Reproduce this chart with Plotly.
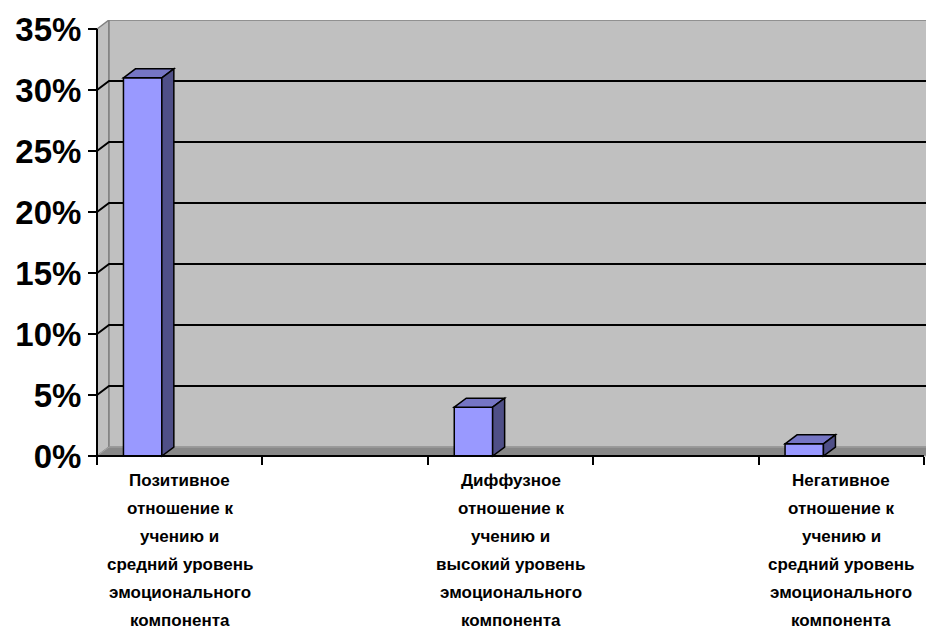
import plotly.graph_objects as go

# ---- data ----
categories = [
    "Позитивное<br>отношение к<br>учению и<br>средний уровень<br>эмоционального<br>компонента",
    "Диффузное<br>отношение к<br>учению и<br>высокий уровень<br>эмоционального<br>компонента",
    "Негативное<br>отношение к<br>учению и<br>средний уровень<br>эмоционального<br>компонента",
]
values = [0.31, 0.04, 0.01]
y_ticks = [0, 0.05, 0.10, 0.15, 0.20, 0.25, 0.30, 0.35]

# ---- geometry (pixel-derived) ----
W, H = 926, 630
PX_X = 165.4            # px per category slot
X0_PX = 97              # px of slot boundary -0.5
L_PX, R_PX = 90, 926
PX_Y = 427 / 0.35       # px per unit value
Y0_PX = 456
T_PX, B_PX = 20, 462

xmin = -0.5 - (X0_PX - L_PX) / PX_X
xmax = -0.5 + (R_PX - X0_PX) / PX_X
ymax = (Y0_PX - T_PX) / PX_Y
ymin = -(B_PX - Y0_PX) / PX_Y
dx = 12 / PX_X
dy = 9 / PX_Y
ytop = y_ticks[-1]

slots = [2 * i for i in range(len(categories))]
bar_w = 0.232
bar_off = -0.34

fig = go.Figure()
fig.add_trace(go.Bar(
    x=slots, y=values, width=bar_w, offset=bar_off,
    marker=dict(color="#9999FF", line=dict(color="black", width=1.5)),
    hoverinfo="skip",
))

shapes = []
# left wall
shapes.append(dict(type="path", xref="x", yref="y", layer="below",
                   path=f"M{-0.5},{0} L{-0.5+dx},{dy} L{-0.5+dx},{ytop+dy} L{-0.5},{ytop} Z",
                   fillcolor="#C0C0C0", line=dict(color="#808080", width=1.5)))
# back wall
shapes.append(dict(type="rect", xref="x", yref="y", layer="below",
                   x0=-0.5+dx, x1=xmax+1, y0=dy, y1=ytop+dy,
                   fillcolor="#C0C0C0", line=dict(color="#808080", width=1.5)))
# floor
shapes.append(dict(type="path", xref="x", yref="y", layer="below",
                   path=f"M{-0.5},{0} L{-0.5+dx},{dy} L{xmax+1},{dy} L{xmax+1},{0} Z",
                   fillcolor="#888888", line=dict(color="#A6A6A6", width=1)))
# gridlines on left wall + back wall
for v in y_ticks[1:-1]:
    shapes.append(dict(type="path", xref="x", yref="y", layer="below",
                       path=f"M{-0.5},{v} L{-0.5+dx},{v+dy} L{xmax+1},{v+dy}",
                       line=dict(color="black", width=2)))
# bar 3D faces
for s, v in zip(slots, values):
    l = s + bar_off
    r = l + bar_w
    shapes.append(dict(type="path", xref="x", yref="y", layer="above",
                       path=f"M{l},{v} L{l+dx},{v+dy} L{r+dx},{v+dy} L{r},{v} Z",
                       fillcolor="#7575C4", line=dict(color="black", width=1.5)))
    shapes.append(dict(type="path", xref="x", yref="y", layer="above",
                       path=f"M{r},{0} L{r},{v} L{r+dx},{v+dy} L{r+dx},{dy} Z",
                       fillcolor="#4F4F87", line=dict(color="black", width=1.5)))
# axis lines
shapes.append(dict(type="line", xref="x", yref="y", layer="above",
                   x0=-0.5, x1=-0.5, y0=0, y1=ytop, line=dict(color="black", width=2)))
shapes.append(dict(type="line", xref="x", yref="y", layer="above",
                   x0=-0.5, x1=4.5, y0=0, y1=0, line=dict(color="black", width=2)))

annotations = []
for s, lab in zip(slots, categories):
    for i, line in enumerate(lab.split("<br>")):
        annotations.append(dict(
            x=s, xref="x", y=0, yref="paper", yanchor="middle", xanchor="center",
            yshift=-(480 - B_PX) - i * 28.0, showarrow=False, text=line,
            font=dict(family="Liberation Sans, Arial, sans-serif", size=17,
                      color="black", weight="bold"),
        ))

fig.update_layout(
    width=W, height=H, autosize=False,
    margin=dict(l=L_PX, r=W - R_PX, t=T_PX, b=H - B_PX),
    paper_bgcolor="white", plot_bgcolor="white",
    showlegend=False,
    shapes=shapes, annotations=annotations,
    xaxis=dict(range=[xmin, xmax], anchor="free",
               position=(B_PX - Y0_PX) / (B_PX - T_PX),
               tickvals=[k - 0.5 for k in range(6)], ticktext=[""] * 6,
               ticks="outside", ticklen=8, tickwidth=2, tickcolor="black",
               showgrid=False, zeroline=False, showline=False),
    yaxis=dict(range=[ymin, ymax], anchor="free",
               position=(X0_PX - L_PX) / (R_PX - L_PX),
               tickvals=y_ticks, tickformat=".0%",
               ticks="outside", ticklen=9, tickwidth=2, tickcolor="black",
               showgrid=False, zeroline=False, showline=False,
               tickfont=dict(family="Liberation Sans, Arial, sans-serif", size=33,
                             color="black", weight="bold")),
)

fig.write_html("out.html")
